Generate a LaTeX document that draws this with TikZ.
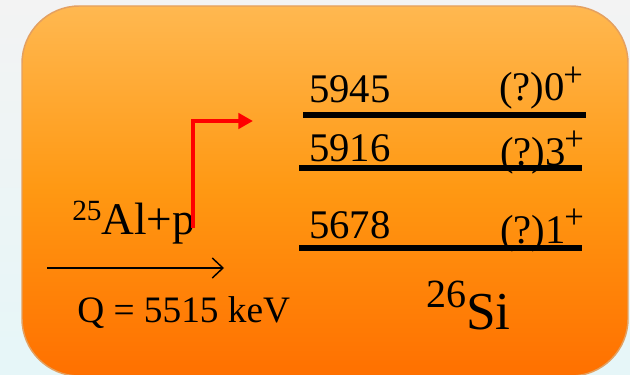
\documentclass[tikz,border=0pt]{standalone}
\usepackage{fontspec}
\setmainfont{Liberation Serif}
\usetikzlibrary{arrows.meta}
\definecolor{bgtop}{RGB}{243,243,243}
\definecolor{bgbot}{RGB}{230,246,248}
\definecolor{boxtop}{RGB}{255,184,80}
\definecolor{boxmid}{RGB}{255,152,18}
\definecolor{boxbot}{RGB}{255,112,0}
\definecolor{boxedge}{RGB}{228,160,96}
\tikzset{
  lvl/.style={line width=4.5pt, black},
  energy/.style={anchor=base west, inner sep=0pt, font=\fontsize{30.5pt}{32pt}\selectfont},
  spin/.style={anchor=base west, inner sep=0pt, font=\fontsize{30.5pt}{32pt}\selectfont},
}
\newcommand{\spinsup}[1]{\raisebox{11pt}{\fontsize{26pt}{28pt}\selectfont #1}}
\begin{document}
\begin{tikzpicture}[x=0.75pt,y=-0.75pt]
\useasboundingbox (0,0) rectangle (630,374);
\shade[top color=bgtop, bottom color=bgbot] (0,0) rectangle (630,374);
\path[clip] (0,0) rectangle (630,374);
\shade[top color=boxtop, bottom color=boxbot, middle color=boxmid, rounded corners=43pt]
  (22,6) rectangle (628,376);
\draw[boxedge, line width=1.1pt, rounded corners=43pt] (22,6) rectangle (628,376);

% levels
\coordinate (l1a) at (303,115); \coordinate (l1b) at (586,115);
\coordinate (l2a) at (299,168); \coordinate (l2b) at (582,168);
\coordinate (l3a) at (299,248); \coordinate (l3b) at (582,248);

\node[energy] (e1) at (309,103) {5945};
\node[spin] (s1) at (499,101) {(?)0\kern-1pt\spinsup{+}};
\node[energy] (e2) at (309,161) {5916};
\node[spin] (s2) at (500,165) {(?)3\kern-1pt\spinsup{+}};
\node[energy] (e3) at (309,238) {5678};
\node[spin] (s3) at (500,243) {(?)1\kern-1pt\spinsup{+}};

\draw[lvl] (l1a) -- (l1b);
\draw[lvl] (l2a) -- (l2b);
\draw[lvl] (l3a) -- (l3b);

\node[anchor=base west, inner sep=0pt, font=\fontsize{40pt}{42pt}\selectfont] (si) at (426,329)
  {\raisebox{16.5pt}{\fontsize{30pt}{32pt}\selectfont 26}Si};

\node[anchor=base west, inner sep=0pt, font=\fontsize{34pt}{36pt}\selectfont] (al) at (72,234)
  {\raisebox{10pt}{\fontsize{22pt}{24pt}\selectfont 25}Al+p};

% red arrow
\coordinate (r0) at (193,228);
\coordinate (r1) at (193,121);
\coordinate (r2) at (253,121);
\draw[red, line width=3.6pt, -{Triangle[length=11pt,width=11.5pt]}] (r0) -- (r1) -- (r2);

% black reaction arrow
\coordinate (b0) at (47,268);
\coordinate (b1) at (224,268);
\draw[black, line width=1.1pt, -{Straight Barb[length=8pt,width=15pt,line width=1.1pt]}] (b0) -- (b1);

\node[anchor=base west, inner sep=0pt, font=\fontsize{28pt}{30pt}\selectfont] (q) at (77,322)
  {Q = 5515 keV};
\end{tikzpicture}
\end{document}
